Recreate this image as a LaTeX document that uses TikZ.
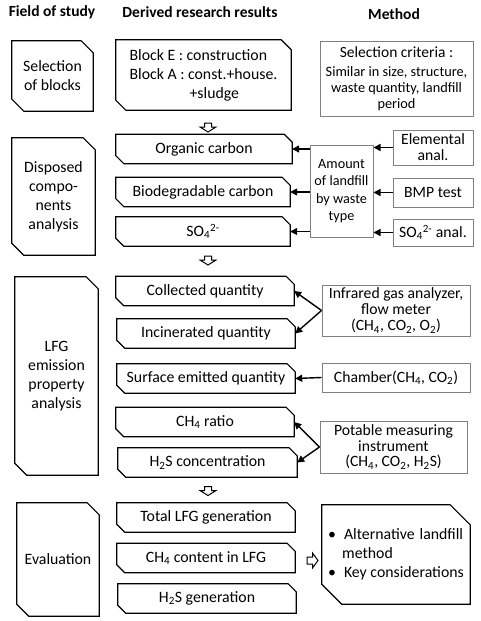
\documentclass[tikz,border=0pt]{standalone}
\usepackage{fontspec}
\setmainfont{Carlito}
\usetikzlibrary{
  arrows.meta, % for Triangle arrow tip
}
\tikzset{
  field/.style={ % style for the boxes with two cut corners
    rectangle,inner sep=0pt,align=center,
    font=\fontsize{15.8}{19}\selectfont,
    append after command={\pgfextra{ % outline drawn around the node
      \draw[line width=1.2pt]
        (\tikzlastnode.north west) -- ([xshift=-#1]\tikzlastnode.north east)
        -- ([yshift=-#1]\tikzlastnode.north east) -- (\tikzlastnode.south east)
        -- ([xshift=#1]\tikzlastnode.south west) -- ([yshift=#1]\tikzlastnode.south west)
        -- cycle;
    }},
  },
  field/.default=12pt,
  result/.style={ % style for the derived results
    field=8pt, % inherit the field style, smaller cut
    minimum height=29pt,
  },
  method/.style={ % style for the methods
    rectangle,draw=black!50,line width=1pt,
    inner sep=0pt,align=center,
    font=\fontsize{15.7}{16}\selectfont,
  },
  head/.style={ % style for the column headers
    font=\bfseries\fontsize{15.5}{19}\selectfont,
  },
  dnarrow/.pic={ % open block arrow pointing down
    \draw[line width=1pt] (-3.5,-4.5) -- (3.5,-4.5) -- (3.5,-0.5) -- (8,-0.5)
      -- (0,4.5) -- (-8,-0.5) -- (-3.5,-0.5) -- cycle;
  },
  rtarrow/.pic={ % open block arrow pointing right
    \draw[line width=1pt] (-5.5,-3.5) -- (0,-3.5) -- (0,-7.5) -- (5.5,0)
      -- (0,7.5) -- (0,3.5) -- (-5.5,3.5) -- cycle;
  },
  conn/.style={ % style for the connections
    -{Triangle[width=7pt,length=7pt]}, % filled arrow tip
    line width=1.4pt,
  },
}
\begin{document}
\begin{tikzpicture}[x=1pt,y=-1pt]
	\useasboundingbox (0,0) rectangle (480,621);
	
	\node[head] (hf) at (52,12) {Field of study};
	\node[head] (hr) at (200,12) {Derived research results};
	\node[head] (hm) at (394,14) {Method};
	
	% field of study
	\node[field,minimum width=81pt,minimum height=70pt] (sb) at (52.5,76) {Selection\\of blocks};
	\node[field,minimum width=83pt,minimum height=117pt] (dc) at (53.5,196.5) {Disposed\\compo-\\nents\\analysis};
	\node[field,minimum width=83pt,minimum height=198pt] (le) at (56.5,376) {LFG\\emission\\property\\analysis};
	\node[field,minimum width=82pt,minimum height=113pt] (ev) at (58,559.5) {Evaluation};
	
	% derived results
	\node[field=10pt,minimum width=175pt,minimum height=70pt,align=left] (bl) at (203.5,75)
		{Block E : construction\\Block A : const.+house.\\\hspace*{60pt}+sludge};
	\node[result,minimum width=176pt] (oc) at (204,149) {Organic carbon};
	\node[result,minimum width=174pt] (bc) at (203,192) {Biodegradable carbon};
	\node[result,minimum width=174pt] (so) at (203,231.5) {SO\textsubscript{4}\textsuperscript{2-}};
	\node[result,minimum width=178pt] (cq) at (205,291) {Collected quantity};
	\node[result,minimum width=178pt] (iq) at (206,333.5) {Incinerated quantity};
	\node[result,minimum width=178pt] (sq) at (206,378.5) {Surface emitted quantity};
	\node[result,minimum width=178pt] (cr) at (205,422) {CH\textsubscript{4} ratio};
	\node[result,minimum width=179pt] (hc) at (207.5,462.5) {H\textsubscript{2}S concentration};
	\node[result,minimum width=178pt] (tg) at (206,517.5) {Total LFG generation};
	\node[result,minimum width=178pt] (cc) at (206,558) {CH\textsubscript{4} content in LFG};
	\node[result,minimum width=178pt] (hg) at (207,598.5) {H\textsubscript{2}S generation};
	
	% methods
	\node[method,minimum width=153pt,minimum height=75pt,font=\fontsize{14.3}{16}\selectfont] (sc) at (396.5,78.5)
		{{\fontsize{15.5}{16}\selectfont Selection criteria :}\\[3pt]Similar in size, structure,\\waste quantity, landfill\\period};
	\node[method,minimum width=63pt,minimum height=92pt,font=\fontsize{14.2}{17.3}\selectfont] (am) at (341.5,191)
		{Amount\\of landfill\\by waste\\type};
	\node[method,minimum width=80pt,minimum height=35pt] (ea) at (433,147.5) {Elemental\\anal.};
	\node[method,minimum width=80pt,minimum height=29pt] (bt) at (433,192.5) {BMP test};
	\node[method,minimum width=80pt,minimum height=27pt] (sa) at (433,232.5) {SO\textsubscript{4}\textsuperscript{2-} anal.};
	\node[method,minimum width=148pt,minimum height=51pt] (ir) at (396,310.5)
		{Infrared gas analyzer,\\flow meter\\(CH\textsubscript{4}, CO\textsubscript{2}, O\textsubscript{2})};
	\node[method,minimum width=148pt,minimum height=29pt] (ch) at (396,377.5) {Chamber(CH\textsubscript{4}, CO\textsubscript{2})};
	\node[method,minimum width=147pt,minimum height=52pt,font=\fontsize{15.7}{15.5}\selectfont] (pm) at (393.5,447)
		{Potable measuring\\instrument\\(CH\textsubscript{4}, CO\textsubscript{2}, H\textsubscript{2}S)};
	\node[field=20pt,minimum width=148pt,minimum height=99pt,align=left] (ak) at (396,554.5)
		{\textbullet\hspace{8pt}Alternative\hspace{5pt}landfill\\\hspace*{14pt}method\\\textbullet\hspace{8pt}Key considerations};
	
	% open arrows
	\pic (d1) at (208,127.5) {dnarrow};
	\pic (d2) at (208,260.5) {dnarrow};
	\pic (d3) at (208,491) {dnarrow};
	\pic (r1) at (312.5,560.5) {rtarrow};
	
	% connections
	\draw[conn] (am.west |- oc.east) -- (oc.east);
	\draw[conn] (am.west |- bc.east) -- (bc.east);
	\draw[conn] (am.west |- so.east) -- (so.east);
	\draw[conn] (ea.west) -- (am.east |- ea.west);
	\draw[conn] (bt.west) -- (am.east |- bt.west);
	\draw[conn] (sa.west) -- (am.east |- sa.west);
	\draw[conn] (ir.west) -- (cq.east);
	\draw[conn] (ir.west) -- (iq.east);
	\draw[conn] (ch.west) -- (sq.east);
	\draw[conn] (pm.west) -- (cr.east);
	\draw[conn] (pm.west) -- (hc.east);
\end{tikzpicture}
\end{document}
